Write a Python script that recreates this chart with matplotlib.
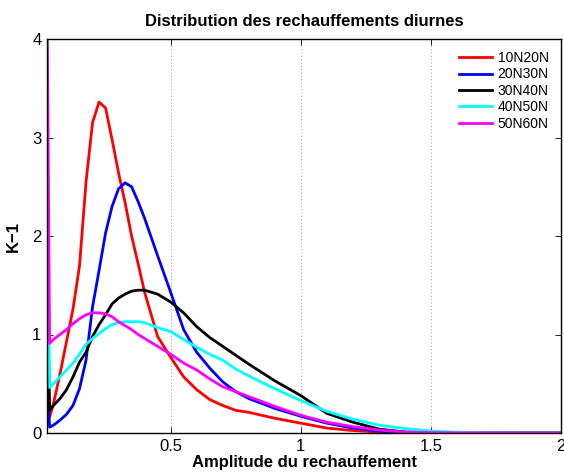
import matplotlib
matplotlib.use("Agg")
import matplotlib.pyplot as plt

plt.rcParams['font.family'] = ['Liberation Sans', 'DejaVu Sans']

x = [0.025, 0.035, 0.05, 0.075, 0.1, 0.125, 0.15, 0.175, 0.2, 0.225, 0.25, 0.275,
     0.3, 0.325, 0.35, 0.375, 0.4, 0.45, 0.5, 0.55, 0.6, 0.65, 0.7, 0.75, 0.8,
     0.9, 1.0, 1.1, 1.2, 1.3, 1.4, 1.5, 1.6, 1.7, 1.8, 1.9, 2.0]

y_10N20N = [1.2, 0.16, 0.3, 0.6, 0.93, 1.26, 1.7, 2.55, 3.15, 3.36, 3.3, 2.98,
            2.64, 2.34, 2.0, 1.72, 1.43, 0.98, 0.77, 0.57, 0.44, 0.34, 0.28, 0.23, 0.21,
            0.15, 0.1, 0.05, 0.025, 0.01, 0.004, 0.002, 0.001, 0.0, 0.0, 0.0, 0.0]

y_20N30N = [0.6, 0.06, 0.08, 0.13, 0.19, 0.28, 0.45, 0.74, 1.28, 1.65, 2.03, 2.3,
            2.48, 2.54, 2.5, 2.35, 2.18, 1.8, 1.43, 1.05, 0.82, 0.66, 0.52, 0.42, 0.35,
            0.25, 0.17, 0.1, 0.05, 0.02, 0.005, 0.002, 0.001, 0.0, 0.0, 0.0, 0.0]

y_30N40N = [1.6, 0.23, 0.28, 0.35, 0.44, 0.57, 0.72, 0.82, 0.98, 1.1, 1.2, 1.31,
            1.37, 1.41, 1.44, 1.45, 1.45, 1.41, 1.33, 1.22, 1.08, 0.97, 0.88, 0.79, 0.7,
            0.53, 0.38, 0.2, 0.11, 0.04, 0.01, 0.003, 0.001, 0.0, 0.0, 0.0, 0.0]

y_40N50N = [2.8, 0.46, 0.5, 0.57, 0.64, 0.71, 0.8, 0.9, 0.96, 1.01, 1.06, 1.1,
            1.12, 1.13, 1.13, 1.13, 1.12, 1.07, 1.03, 0.95, 0.87, 0.8, 0.74, 0.65, 0.58,
            0.45, 0.33, 0.22, 0.14, 0.08, 0.045, 0.02, 0.008, 0.003, 0.001, 0.0, 0.0]

y_50N60N = [4.5, 0.91, 0.95, 1.0, 1.05, 1.11, 1.16, 1.2, 1.22, 1.22, 1.21, 1.18,
            1.13, 1.09, 1.05, 1.0, 0.96, 0.88, 0.8, 0.71, 0.64, 0.55, 0.47, 0.42, 0.37,
            0.27, 0.18, 0.11, 0.065, 0.03, 0.01, 0.004, 0.002, 0.001, 0.0, 0.0, 0.0]

labels = ['10N20N', '20N30N', '30N40N', '40N50N', '50N60N']
colors = ['#ff0000', '#0000ff', '#000000', '#00ffff', '#ff00ff']
series = [y_10N20N, y_20N30N, y_30N40N, y_40N50N, y_50N60N]

xticks = [0.5, 1, 1.5, 2]
xticklabels = ['0.5', '1', '1.5', '2']
yticks = [0, 1, 2, 3, 4]

fig = plt.figure(figsize=(5.64, 4.72), dpi=100)
ax = fig.add_axes([47/564, 39/472, (561-47)/564, (433-39)/472])

for ys, c, lab in zip(series, colors, labels):
    ax.plot(x, ys, color=c, lw=2.0, label=lab)

ax.set_xlim(0.025, 2)
ax.set_ylim(0, 4)
ax.set_xticks(xticks)
ax.set_xticklabels(xticklabels)
ax.set_yticks(yticks)
for xv in xticks[:-1]:
    ax.axvline(xv, color='#808080', ls=(0, (1, 3)), lw=0.6, zorder=0)

ax.tick_params(direction='in', length=4, width=0.6, labelsize=12, top=True, right=True,
               pad=4)
for sp in ax.spines.values():
    sp.set_linewidth(1.0)

ax.set_title('Distribution des rechauffements diurnes', fontsize=12, fontweight='bold', pad=9)
ax.set_xlabel('Amplitude du rechauffement', fontsize=12, fontweight='bold', labelpad=1)
ax.set_ylabel('K\u22121', fontsize=12, fontweight='bold', labelpad=8)

leg = ax.legend(loc='upper right', bbox_to_anchor=(0.995, 0.994), frameon=False,
                fontsize=10, handlelength=2.4, handletextpad=0.4, labelspacing=0.17,
                borderaxespad=0.3)

fig.savefig('out.png', dpi=100)
